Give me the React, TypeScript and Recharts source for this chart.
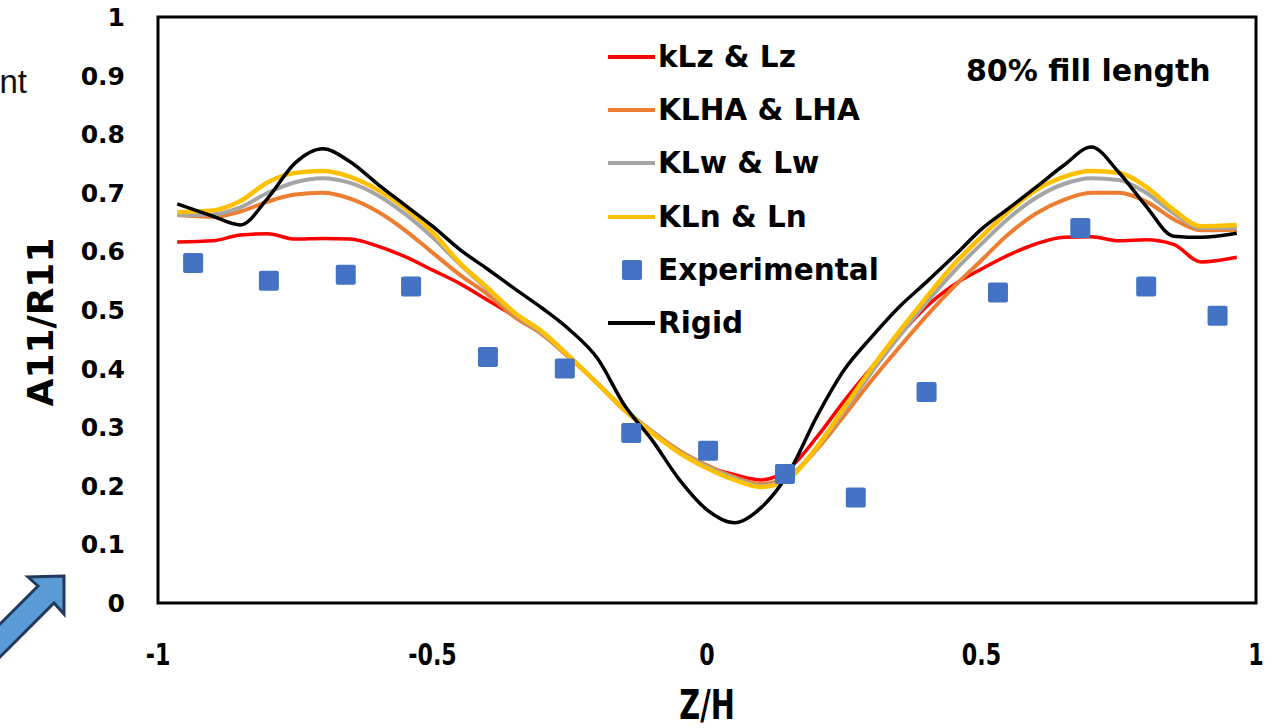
import React from "react";
import {
  ComposedChart,
  Line,
  Scatter,
  XAxis,
  YAxis,
  ReferenceArea,
  Legend,
} from "recharts";

// Z/H sample positions used for the simulated curves
const zGrid = [
  -0.965, -0.9, -0.85, -0.8, -0.75, -0.7, -0.65, -0.6, -0.55, -0.5, -0.45, -0.4,
  -0.35, -0.3, -0.25, -0.2, -0.15, -0.1, -0.05, 0, 0.05, 0.1, 0.15, 0.2, 0.25,
  0.3, 0.35, 0.4, 0.45, 0.5, 0.55, 0.6, 0.65, 0.7, 0.75, 0.8, 0.85, 0.9, 0.965,
];

const kLz = [
  0.616, 0.618, 0.628, 0.63, 0.621, 0.622, 0.621, 0.609, 0.591, 0.568, 0.545,
  0.517, 0.489, 0.462, 0.42, 0.375, 0.328, 0.29, 0.258, 0.233, 0.219, 0.21,
  0.23, 0.283, 0.345, 0.402, 0.456, 0.506, 0.543, 0.57, 0.594, 0.613, 0.624,
  0.625, 0.618, 0.62, 0.612, 0.582, 0.59,
];

const klha = [
  0.662, 0.659, 0.668, 0.685, 0.697, 0.7, 0.69, 0.668, 0.636, 0.598, 0.56,
  0.527, 0.488, 0.458, 0.418, 0.375, 0.33, 0.293, 0.26, 0.235, 0.215, 0.203,
  0.217, 0.262, 0.32, 0.38, 0.436, 0.49, 0.54, 0.585, 0.63, 0.665, 0.688, 0.7,
  0.7, 0.685, 0.655, 0.636, 0.637,
];

const klw = [
  0.662, 0.663, 0.675, 0.7, 0.718, 0.725, 0.717, 0.696, 0.664, 0.624, 0.578,
  0.535, 0.493, 0.46, 0.42, 0.375, 0.33, 0.292, 0.258, 0.233, 0.213, 0.2, 0.215,
  0.265, 0.328, 0.394, 0.455, 0.513, 0.566, 0.613, 0.657, 0.692, 0.715, 0.725,
  0.722, 0.7, 0.665, 0.64, 0.64,
];

const kln = [
  0.667, 0.67, 0.686, 0.718, 0.734, 0.737, 0.727, 0.705, 0.674, 0.633, 0.58,
  0.538, 0.495, 0.463, 0.42, 0.375, 0.329, 0.29, 0.256, 0.23, 0.21, 0.198,
  0.213, 0.266, 0.333, 0.401, 0.463, 0.522, 0.578, 0.625, 0.669, 0.705, 0.727,
  0.737, 0.734, 0.71, 0.671, 0.643, 0.645,
];

const rigid = [
  0.681, 0.66, 0.645, 0.691, 0.751, 0.775, 0.753, 0.715, 0.679, 0.643, 0.603,
  0.57, 0.536, 0.503, 0.466, 0.418, 0.337, 0.278, 0.21, 0.159, 0.137, 0.164,
  0.224, 0.318, 0.398, 0.454, 0.505, 0.548, 0.592, 0.638, 0.674, 0.71, 0.747,
  0.778, 0.735, 0.677, 0.626, 0.624, 0.631,
];

// experimental points
const expZ = [
  -0.936, -0.798, -0.658, -0.539, -0.399, -0.259, -0.138, 0.002, 0.142, 0.271,
  0.4, 0.53, 0.68, 0.8, 0.93,
];
const expV = [
  0.58, 0.55, 0.56, 0.54, 0.42, 0.4, 0.29, 0.26, 0.22, 0.18, 0.36, 0.53, 0.64,
  0.54, 0.49,
];

const xTicks = [-1, -0.5, 0, 0.5, 1];
const yTicks = [0, 0.1, 0.2, 0.3, 0.4, 0.5, 0.6, 0.7, 0.8, 0.9, 1];

const series = [
  { key: "kLz", name: "kLz & Lz", color: "#FF0000", width: 3.5 },
  { key: "klha", name: "KLHA & LHA", color: "#ED7D31", width: 4 },
  { key: "klw", name: "KLw & Lw", color: "#A5A5A5", width: 4 },
  { key: "kln", name: "KLn & Ln", color: "#FFC000", width: 4.5 },
  { key: "rigid", name: "Rigid", color: "#000000", width: 3.5 },
];

const legendRows = [
  { name: "kLz & Lz", color: "#FF0000", marker: "line" },
  { name: "KLHA & LHA", color: "#ED7D31", marker: "line" },
  { name: "KLw & Lw", color: "#A5A5A5", marker: "line" },
  { name: "KLn & Ln", color: "#FFC000", marker: "line" },
  { name: "Experimental", color: "#4472C4", marker: "square" },
  { name: "Rigid", color: "#000000", marker: "line" },
];

const tableData = zGrid.map((z, i) => ({
  z,
  kLz: kLz[i],
  klha: klha[i],
  klw: klw[i],
  kln: kln[i],
  rigid: rigid[i],
}));

const expData = expZ.map((z, i) => ({ z, v: expV[i] }));

const FONT = "'DejaVu Sans', sans-serif";

const XTick = (props: any) => {
  const { x, y, payload } = props;
  return (
    <text
      transform={`translate(${x},${y + 62}) scale(0.74,1)`}
      textAnchor="middle"
      fontFamily={FONT}
      fontWeight="bold"
      fontSize={30}
      fill="#000"
    >
      {String(payload.value)}
    </text>
  );
};

const YTick = (props: any) => {
  const { x, y, payload } = props;
  return (
    <text
      x={x - 33}
      y={y + 9}
      textAnchor="end"
      fontFamily={FONT}
      fontWeight="bold"
      fontSize={25}
      fill="#000"
    >
      {String(payload.value)}
    </text>
  );
};

const Square = (props: any) => {
  const { cx, cy } = props;
  if (cx == null || cy == null) return null;
  return (
    <rect x={cx - 10} y={cy - 10} width={20} height={20} rx={2} fill="#4472C4" />
  );
};

const renderLegend = () => (
  <div style={{ fontFamily: FONT, fontWeight: "bold", fontSize: 29.5, color: "#000" }}>
    {legendRows.map((r) => (
      <div
        key={r.name}
        style={{ display: "flex", alignItems: "center", height: 53.3, whiteSpace: "nowrap" }}
      >
        <svg width={50} height={24} style={{ flex: "none" }}>
          {r.marker === "line" ? (
            <line x1={0} y1={12} x2={47} y2={12} stroke={r.color} strokeWidth={4} />
          ) : (
            <rect x={14} y={2} width={20} height={20} rx={2} fill={r.color} />
          )}
        </svg>
        <span>{r.name}</span>
      </div>
    ))}
  </div>
);

export default function App() {
  return (
    <div style={{ position: "absolute", left: 0, top: 0, width: 1279, height: 728, background: "#fff" }}>
      <ComposedChart
        width={1279}
        height={728}
        data={tableData}
        margin={{ top: 17, right: 23, bottom: 0, left: 0 }}
      >
        <XAxis
          dataKey="z"
          type="number"
          domain={[-1, 1]}
          ticks={xTicks}
          tick={<XTick />}
          tickLine={false}
          axisLine={false}
          tickSize={0}
          tickMargin={0}
          height={125}
          allowDataOverflow
          label={(p: any) => {
            const vb = p.viewBox;
            const cx = vb.x + vb.width / 2;
            return (
              <text
                transform={`translate(${cx},${719}) scale(0.72,1)`}
                textAnchor="middle"
                fontFamily={FONT}
                fontWeight="bold"
                fontSize={40}
                fill="#000"
              >
                Z/H
              </text>
            );
          }}
        />
        <YAxis
          type="number"
          domain={[0, 1]}
          ticks={yTicks}
          tick={<YTick />}
          tickLine={false}
          axisLine={false}
          tickSize={0}
          tickMargin={0}
          width={158}
          allowDataOverflow
          label={() => (
            <text
              transform={`translate(53,322) rotate(-90)`}
              textAnchor="middle"
              fontFamily={FONT}
              fontWeight="bold"
              fontSize={36}
              fill="#000"
            >
              A11/R11
            </text>
          )}
        />
        <ReferenceArea
          x1={-1}
          x2={1}
          y1={0}
          y2={1}
          fill="none"
          stroke="#000"
          strokeWidth={3}
          ifOverflow="visible"
        />
        {series.map((s) => (
          <Line
            key={s.key}
            type="monotone"
            dataKey={s.key}
            name={s.name}
            stroke={s.color}
            strokeWidth={s.width}
            dot={false}
            activeDot={false}
            isAnimationActive={false}
          />
        ))}
        <Scatter
          data={expData}
          dataKey="v"
          name="Experimental"
          shape={<Square />}
          isAnimationActive={false}
        />
        <Legend
          layout="vertical"
          align="center"
          verticalAlign="middle"
          content={renderLegend}
          wrapperStyle={{ left: 608, top: 30, width: 320 }}
        />
      </ComposedChart>
      <svg
        width={1279}
        height={728}
        style={{ position: "absolute", left: 0, top: 0, pointerEvents: "none" }}
      >
        <text x={27} y={93} textAnchor="end" fontFamily="'Liberation Sans', Arial, sans-serif" fontSize={33} fill="#111">
          nt
        </text>
        <text x={966} y={81} fontFamily={FONT} fontWeight="bold" fontSize={30} fill="#000">
          80% fill length
        </text>
        <polygon
          points="-4,628 38,586 28,577 64,576 64,614 54,603 -4,661"
          fill="#5B9BD5"
          stroke="#22385C"
          strokeWidth={3}
          strokeLinejoin="miter"
        />
      </svg>
    </div>
  );
}
